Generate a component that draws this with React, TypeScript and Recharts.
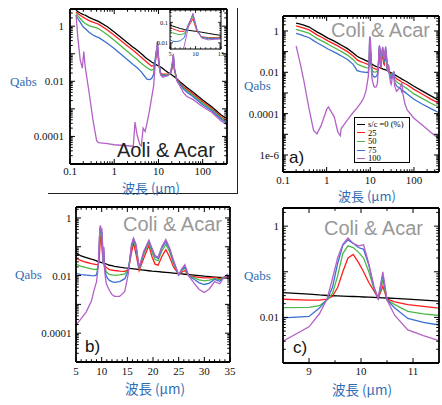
import React from 'react';
import { LineChart, Line, XAxis, YAxis, Legend, CartesianGrid } from 'recharts';

// series: s/c = 0, 25, 50, 75, 100 %
const seriesNames = ['s/c =0 (%)', '25', '50', '75', '100'];
const seriesKeys = ['s0', 's25', 's50', 's75', 's100'];
const seriesColors = ['#000000', '#ff1c1c', '#4cb848', '#3a6fd2', '#b462c6'];

// ---- Aoli & Acar (top-left panel + inset) ----
const aoliWave = [
  0.137, 0.15, 0.17, 0.19, 0.205, 0.22, 0.27, 0.33, 0.4, 0.44,
  0.7, 1, 2, 2.7, 2.95, 3.3, 3.8, 4.1, 4.5, 5,
  5.5, 6.3, 7, 7.8, 8.6, 9.5, 10.3, 11.2, 12.5, 14,
  16.5, 19, 20.5, 21.7, 23, 26, 31, 37, 44, 60,
  100, 160, 262, 370,
];
const aoliS0 = [
  3.8, 3.4, 3.0, 2.75, 2.6, 2.5, 2.1, 1.8, 1.6, 1.5,
  0.95, 0.62, 0.25, 0.17, 0.155, 0.135, 0.11, 0.1, 0.088, 0.075,
  0.066, 0.057, 0.05, 0.045, 0.041, 0.038, 0.036, 0.033, 0.029, 0.025,
  0.021, 0.018, 0.0165, 0.0155, 0.0145, 0.0125, 0.0095, 0.0075, 0.006, 0.0041,
  0.0021, 0.0012, 0.0006, 0.00042,
];
const aoliS25 = [
  3.3, 2.9, 2.5, 2.2, 2.05, 1.9, 1.6, 1.4, 1.25, 1.18,
  0.73, 0.47, 0.19, 0.13, 0.117, 0.1, 0.082, 0.074, 0.065, 0.056,
  0.049, 0.041, 0.036, 0.037, 0.06, 0.15, 0.035, 0.02, 0.018, 0.018,
  0.018, 0.02, 0.03, 0.065, 0.025, 0.012, 0.0085, 0.0063, 0.0051, 0.0035,
  0.0018, 0.00105, 0.00051, 0.00036,
];
const aoliS50 = [
  2.9, 2.4, 1.9, 1.55, 1.38, 1.25, 1.05, 0.95, 0.86, 0.82,
  0.49, 0.31, 0.12, 0.08, 0.072, 0.062, 0.05, 0.045, 0.04, 0.035,
  0.031, 0.027, 0.025, 0.028, 0.07, 0.2, 0.04, 0.019, 0.017, 0.017,
  0.017, 0.021, 0.035, 0.08, 0.027, 0.0115, 0.008, 0.0057, 0.0045, 0.0031,
  0.0016, 0.00095, 0.00046, 0.00032,
];
const aoliS75 = [
  2.5, 1.9, 1.4, 1.05, 0.9, 0.82, 0.6, 0.48, 0.41, 0.39,
  0.24, 0.155, 0.06, 0.04, 0.036, 0.031, 0.025, 0.022, 0.018, 0.0145,
  0.012, 0.0115, 0.0125, 0.018, 0.08, 0.24, 0.045, 0.018, 0.016, 0.016,
  0.0165, 0.022, 0.04, 0.09, 0.029, 0.011, 0.0075, 0.0052, 0.004, 0.0028,
  0.0014, 0.00085, 0.00042, 0.00029,
];
const aoliS100 = [
  2.6, 0.4, 0.06, 0.03, 0.12, 0.035, 0.004, 0.0004, 0.00007, 0.00006,
  0.000055, 0.00005, 0.000046, 0.000044, 0.00033, 0.00011, 0.00005, 0.000045, 0.0002, 0.00015,
  0.0003, 0.0009, 0.0025, 0.007, 0.06, 0.28, 0.04, 0.017, 0.014, 0.015,
  0.016, 0.022, 0.045, 0.1, 0.03, 0.0105, 0.0065, 0.0038, 0.0028, 0.0022,
  0.0012, 0.00075, 0.00036, 0.00025,
];

// ---- Coli & Acar (panels a, b, c) ----
const coliWave = [
  0.2, 0.25, 0.3, 0.4, 0.5, 0.6, 0.75, 1, 1.1, 1.5,
  1.8, 2.05, 2.15, 3, 4, 5, 6, 7, 8, 8.5,
  9, 9.2, 9.35, 9.45, 9.55, 9.65, 9.75, 9.85, 9.95, 10.05,
  10.15, 10.25, 10.33, 10.42, 10.5, 10.65, 10.9, 11.2, 11.5, 12,
  12.5, 13.5, 14.5, 15.2, 15.8, 16.2, 16.7, 17.3, 18.2, 19.2,
  19.8, 20.4, 21, 21.7, 22.5, 23.2, 24, 25, 25.6, 26.2,
  27, 28, 29, 30, 31, 32, 33, 33.8, 34.5, 36,
  40, 45, 50, 53, 56, 62, 70, 100, 150, 250,
  380,
];
const coliS0 = [
  2.4, 2.15, 1.9, 1.55, 1.15, 0.9, 0.7, 0.49, 0.44, 0.32,
  0.26, 0.22, 0.21, 0.14, 0.088, 0.06, 0.048, 0.042, 0.037, 0.035,
  0.0325, 0.031, 0.0302, 0.0298, 0.0295, 0.0292, 0.029, 0.0287, 0.0284, 0.028,
  0.0277, 0.0274, 0.0272, 0.0269, 0.0266, 0.0261, 0.0252, 0.024, 0.0228, 0.022,
  0.021, 0.0195, 0.0185, 0.018, 0.0175, 0.0171, 0.0166, 0.016, 0.0154, 0.0147,
  0.0143, 0.014, 0.0137, 0.0133, 0.013, 0.0126, 0.0122, 0.0117, 0.0114, 0.0111,
  0.0107, 0.0103, 0.0099, 0.0095, 0.0092, 0.0089, 0.0086, 0.0084, 0.0082, 0.0077,
  0.0067, 0.0058, 0.0051, 0.0047, 0.0044, 0.0039, 0.0034, 0.0021, 0.0013, 0.0007,
  0.00044,
];
const coliS25 = [
  1.75, 1.55, 1.38, 1.12, 0.83, 0.65, 0.51, 0.36, 0.32, 0.23,
  0.19, 0.16, 0.153, 0.1, 0.063, 0.04, 0.033, 0.029, 0.026, 0.025,
  0.024, 0.024, 0.025, 0.029, 0.045, 0.1, 0.2, 0.24, 0.16, 0.1,
  0.058, 0.038, 0.026, 0.048, 0.025, 0.022, 0.019, 0.0175, 0.016, 0.0155,
  0.015, 0.0143, 0.014, 0.016, 0.06, 0.14, 0.055, 0.015, 0.04, 0.11,
  0.045, 0.025, 0.023, 0.045, 0.08, 0.045, 0.02, 0.011, 0.013, 0.015,
  0.0098, 0.0092, 0.0087, 0.0083, 0.0084, 0.0086, 0.0078, 0.0086, 0.0092, 0.006,
  0.0049, 0.0042, 0.0037, 0.0033, 0.0032, 0.0028, 0.0025, 0.0015, 0.00092, 0.00049,
  0.00031,
];
const coliS50 = [
  1.2, 1.05, 0.93, 0.76, 0.56, 0.44, 0.34, 0.25, 0.22, 0.155,
  0.127, 0.108, 0.103, 0.068, 0.042, 0.025, 0.021, 0.019, 0.017, 0.0163,
  0.0165, 0.018, 0.024, 0.033, 0.08, 0.25, 0.37, 0.34, 0.27, 0.2,
  0.1, 0.042, 0.026, 0.066, 0.024, 0.019, 0.0135, 0.012, 0.011, 0.0105,
  0.0102, 0.0105, 0.0115, 0.016, 0.09, 0.17, 0.09, 0.017, 0.055, 0.14,
  0.065, 0.036, 0.033, 0.07, 0.12, 0.07, 0.026, 0.0105, 0.015, 0.018,
  0.0097, 0.0085, 0.0071, 0.0065, 0.0069, 0.008, 0.0071, 0.0087, 0.0103, 0.0045,
  0.0035, 0.0029, 0.0026, 0.0022, 0.0022, 0.0019, 0.0016, 0.0009, 0.00056, 0.00031,
  0.00021,
];
const coliS75 = [
  0.77, 0.67, 0.58, 0.47, 0.34, 0.27, 0.21, 0.145, 0.13, 0.095,
  0.078, 0.066, 0.063, 0.042, 0.025, 0.012, 0.0108, 0.0103, 0.0099, 0.0098,
  0.0105, 0.016, 0.025, 0.045, 0.15, 0.38, 0.5, 0.42, 0.34, 0.31,
  0.14, 0.045, 0.026, 0.085, 0.024, 0.016, 0.0095, 0.0078, 0.0068, 0.0062,
  0.0058, 0.0062, 0.0078, 0.015, 0.1, 0.19, 0.11, 0.018, 0.065, 0.16,
  0.08, 0.045, 0.04, 0.09, 0.15, 0.085, 0.03, 0.0105, 0.016, 0.02,
  0.0096, 0.0075, 0.0056, 0.0049, 0.0055, 0.0074, 0.0063, 0.0088, 0.0108, 0.0033,
  0.0022, 0.0018, 0.0016, 0.0011, 0.0013, 0.0011, 0.0009, 0.0005, 0.0003, 0.00017,
  0.00011,
];
const coliS100 = [
  0.19, 0.025, 0.004, 0.00015, 0.000016, 0.0000105, 0.000027, 0.00016, 0.00021, 0.000068,
  0.000013, 0.0000085, 0.000019, 0.00005, 0.00011, 0.00019, 0.00032, 0.00055, 0.0013, 0.003,
  0.0062, 0.012, 0.026, 0.07, 0.2, 0.4, 0.55, 0.42, 0.37, 0.39,
  0.15, 0.047, 0.026, 0.1, 0.024, 0.011, 0.0053, 0.004, 0.0031, 0.0022,
  0.0019, 0.0019, 0.0028, 0.012, 0.12, 0.2, 0.12, 0.019, 0.07, 0.17,
  0.09, 0.05, 0.043, 0.1, 0.18, 0.095, 0.034, 0.0105, 0.017, 0.024,
  0.0095, 0.0055, 0.0033, 0.0026, 0.0035, 0.0062, 0.0052, 0.0085, 0.011, 0.0022,
  0.0012, 0.0016, 0.0022, 0.003, 0.0009, 0.0003, 0.00015, 0.00006, 0.00003, 0.000012,
  0.000006,
];

const xLogLabels: [number, string][] = [[0.1, '0.1'], [1, '1'], [10, '10'], [100, '100']];
const yLabels4: [number, string][] = [[1, '1'], [0.01, '0.01'], [0.0001, '0.0001']];
const yLabelsA: [number, string][] = [[1, '1'], [0.01, '0.01'], [0.0001, '0.0001'], [1e-6, '1e-6']];
const yLabelsC: [number, string][] = [[1, '1'], [0.01, '0.01']];
const xLabelsB: [number, string][] = [[5, '5'], [10, '10'], [15, '15'], [20, '20'], [25, '25'], [30, '30'], [35, '35']];
const xLabelsC: [number, string][] = [[9, '9'], [10, '10'], [11, '11']];
const insetXLabels: [number, string][] = [[5, '5'], [10, '10'], [15, '15']];
const insetYLabels: [number, string][] = [[0.1, '0.1'], [0.01, '0.01']];

type Row = { [k: string]: number };
const toRows = (w: number[], s: number[][]): Row[] =>
  w.map((x, i) => {
    const r: Row = { w: x };
    seriesKeys.forEach((k, j) => (r[k] = s[j][i]));
    return r;
  });

const aoliRows = toRows(aoliWave, [aoliS0, aoliS25, aoliS50, aoliS75, aoliS100]);
const coliRows = toRows(coliWave, [coliS0, coliS25, coliS50, coliS75, coliS100]);

const logTicks = (lo: number, hi: number) => {
  const out: number[] = [];
  for (let e = Math.floor(Math.log10(lo)); e <= Math.ceil(Math.log10(hi)); e++) {
    for (let m = 1; m < 10; m++) {
      const v = parseFloat((m * Math.pow(10, e)).toPrecision(6));
      if (v >= lo && v <= hi) out.push(v);
    }
  }
  return out;
};
const linTicks = (lo: number, hi: number, step: number) => {
  const out: number[] = [];
  for (let v = lo; v <= hi + 1e-9; v += step) out.push(parseFloat(v.toFixed(4)));
  return out;
};
const isDecade = (v: number) => Math.abs(Math.log10(v) - Math.round(Math.log10(v))) < 1e-6;
const near = (a: number, b: number) => Math.abs(a - b) <= Math.abs(b) * 1e-6 + 1e-12;

type Box = { l: number; t: number; r: number; b: number };
type Side = 'bottom' | 'top' | 'left' | 'right';

const makeTick = (
  side: Side, bx: Box, major: (v: number) => boolean,
  labels: [number, string][], len: number, font: number, gap: number, sw: number,
) => (p: any) => {
  const v = p.payload.value as number;
  const L = major(v) ? len : len * 0.55;
  const lab = labels.find(([lv]) => near(v, lv));
  const txt = { fontFamily: '"Liberation Serif", serif', fontSize: font, fill: '#111' };
  if (side === 'bottom')
    return (
      <g>
        <line x1={p.x} x2={p.x} y1={bx.b} y2={bx.b - L} stroke="#000" strokeWidth={sw} />
        {lab && <text x={p.x} y={bx.b + gap} textAnchor="middle" dominantBaseline="central" style={txt}>{lab[1]}</text>}
      </g>
    );
  if (side === 'top') return <line x1={p.x} x2={p.x} y1={bx.t} y2={bx.t + L} stroke="#000" strokeWidth={sw} />;
  if (side === 'left')
    return (
      <g>
        <line x1={bx.l} x2={bx.l + L} y1={p.y} y2={p.y} stroke="#000" strokeWidth={sw} />
        {lab && <text x={bx.l - gap} y={p.y} textAnchor="end" dominantBaseline="central" style={txt}>{lab[1]}</text>}
      </g>
    );
  return <line x1={bx.r} x2={bx.r - L} y1={p.y} y2={p.y} stroke="#000" strokeWidth={sw} />;
};

type PanelProps = {
  left: number; top: number; width: number; height: number; box: Box;
  data: Row[]; xScale: 'log' | 'linear';
  xDomain: [number, number]; yDomain: [number, number];
  xTicks: number[]; xMajor: (v: number) => boolean; xLabels: [number, string][];
  yTicks: number[]; yLabels: [number, string][];
  font: number; frame: number; lineW: number; tickLen: number; xGap: number; yGap: number;
  white?: boolean; legend?: { left: number; top: number };
};

const LegendBox = (props: any) => {
  const items = [...(props.payload || [])].sort(
    (a: any, b: any) => seriesNames.indexOf(a.value) - seriesNames.indexOf(b.value),
  );
  return (
    <div style={{
      border: '1px solid #000', background: '#fff', width: 56, height: 46, boxSizing: 'border-box',
      padding: '2px 0 0 2px', fontFamily: '"Liberation Serif", serif', fontSize: 8.5, lineHeight: '8.6px', color: '#000',
    }}>
      {items.map((e: any) => (
        <div key={e.value} style={{ display: 'flex', alignItems: 'center', height: 8.6 }}>
          <span style={{ display: 'inline-block', width: 8, borderTop: `1.5px solid ${e.color}`, marginRight: 3 }} />
          <span>{e.value}</span>
        </div>
      ))}
    </div>
  );
};

const AX = 1; // thickness reserved for each axis band

function Panel(p: PanelProps) {
  const bx: Box = { l: p.box.l - p.left, t: p.box.t - p.top, r: p.box.r - p.left, b: p.box.b - p.top };
  const margin = { top: bx.t - AX, left: bx.l - AX, right: p.width - bx.r - AX, bottom: p.height - bx.b - AX };
  const axisLine = { stroke: '#000', strokeWidth: p.frame };
  const sw = p.frame > 1.2 ? 1 : 0.8;
  const common = { type: 'number' as const, allowDataOverflow: true, interval: 0 as const, tickLine: false, axisLine };
  return (
    <div style={{ position: 'absolute', left: p.left, top: p.top }}>
      <LineChart width={p.width} height={p.height} data={p.data} margin={margin}>
        {p.white && <CartesianGrid xAxisId="b" yAxisId="l" fill="#fff" stroke="none" horizontal={false} vertical={false} />}
        <XAxis xAxisId="b" dataKey="w" scale={p.xScale} domain={p.xDomain} ticks={p.xTicks} height={AX} {...common}
          tick={makeTick('bottom', bx, p.xMajor, p.xLabels, p.tickLen, p.font, p.xGap, sw)} />
        <XAxis xAxisId="t" orientation="top" dataKey="w" scale={p.xScale} domain={p.xDomain} ticks={p.xTicks} height={AX} {...common}
          tick={makeTick('top', bx, p.xMajor, [], p.tickLen, p.font, p.xGap, sw)} />
        <YAxis yAxisId="l" scale="log" domain={p.yDomain} ticks={p.yTicks} width={AX} {...common}
          tick={makeTick('left', bx, isDecade, p.yLabels, p.tickLen, p.font, p.yGap, sw)} />
        <YAxis yAxisId="r" orientation="right" scale="log" domain={p.yDomain} ticks={p.yTicks} width={AX} {...common}
          tick={makeTick('right', bx, isDecade, [], p.tickLen, p.font, p.yGap, sw)} />
        {seriesKeys.map((k, i) => (
          <Line key={k} xAxisId="b" yAxisId="l" type="linear" dataKey={k} name={seriesNames[i]}
            stroke={seriesColors[i]} strokeWidth={p.lineW} dot={false} activeDot={false} isAnimationActive={false} />
        ))}
        {p.legend && (
          <Legend layout="vertical" align="center" verticalAlign="middle" content={LegendBox}
            wrapperStyle={{ left: p.legend.left, top: p.legend.top, width: 56, height: 46 }} />
        )}
      </LineChart>
    </div>
  );
}

const blue = '#2f6db5';
const Txt = (props: { x: number; y: number; size: number; color: string; family: string; center?: boolean; children: React.ReactNode }) => (
  <div style={{
    position: 'absolute', left: props.x, top: props.y, fontSize: props.size, color: props.color,
    fontFamily: props.family, lineHeight: 1, whiteSpace: 'nowrap',
    transform: props.center ? 'translateX(-50%)' : undefined,
  }}>{props.children}</div>
);
const SANS = '"Liberation Sans", Arial, sans-serif';
const SERIF = '"Liberation Serif", serif';
const CJK = '"Noto Sans CJK JP", sans-serif';

export default function App() {
  const p1Box = { l: 70, t: 9, r: 227, b: 164 };
  const paBox = { l: 283, t: 16, r: 439, b: 172 };
  const pbBox = { l: 76, t: 207, r: 230, b: 362 };
  const pcBox = { l: 283, t: 208, r: 439, b: 363 };
  const inBox = { l: 170, t: 10, r: 221, b: 49 };
  return (
    <div style={{ position: 'absolute', left: 0, top: 0, width: 442, height: 405, background: '#fff', overflow: 'hidden' }}>
      <div style={{ position: 'absolute', left: 48, top: 8, width: 189, height: 185, borderRight: '1.5px solid #222', borderBottom: '1.5px solid #222' }} />

      <Panel left={0} top={0} width={236} height={192} box={p1Box} data={aoliRows} xScale="log"
        xDomain={[0.1, 355]} yDomain={[1e-5, 4.2]} xTicks={logTicks(0.1, 355)} xMajor={isDecade} xLabels={xLogLabels}
        yTicks={logTicks(1e-5, 4.2)} yLabels={yLabels4} font={11} frame={1.8} lineW={1.3} tickLen={5} xGap={6.5} yGap={6} />

      <Panel left={150} top={3} width={76} height={58} box={inBox} data={aoliRows} xScale="linear" white
        xDomain={[5, 15]} yDomain={[0.005, 0.4]} xTicks={linTicks(5, 15, 1)} xMajor={(v) => v % 5 === 0} xLabels={insetXLabels}
        yTicks={logTicks(0.005, 0.4)} yLabels={insetYLabels} font={6.5} frame={1} lineW={1} tickLen={3} xGap={4} yGap={2} />

      <Panel left={221} top={0} width={221} height={200} box={paBox} data={coliRows} xScale="log"
        xDomain={[0.1, 375]} yDomain={[1.5e-7, 5.3]} xTicks={logTicks(0.1, 375)} xMajor={isDecade} xLabels={xLogLabels}
        yTicks={logTicks(1.5e-7, 5.3)} yLabels={yLabelsA} font={11} frame={1.8} lineW={1.3} tickLen={5} xGap={7.5} yGap={4}
        legend={{ left: 133, top: 117 }} />

      <Panel left={0} top={200} width={240} height={180} box={pbBox} data={coliRows} xScale="linear"
        xDomain={[5, 35]} yDomain={[1e-5, 2.4]} xTicks={linTicks(5, 35, 1)} xMajor={(v) => v % 5 === 0} xLabels={xLabelsB}
        yTicks={logTicks(1e-5, 2.4)} yLabels={yLabels4} font={11} frame={1.8} lineW={1.3} tickLen={5} xGap={9} yGap={4.5} />

      <Panel left={221} top={200} width={221} height={180} box={pcBox} data={coliRows} xScale="linear"
        xDomain={[8.5, 11.5]} yDomain={[1e-3, 2.5]} xTicks={linTicks(9, 11, 0.5)} xMajor={(v) => Number.isInteger(v)} xLabels={xLabelsC}
        yTicks={logTicks(1e-3, 2.5)} yLabels={yLabelsC} font={11} frame={1.8} lineW={1.3} tickLen={5} xGap={7.5} yGap={4} />

      <Txt x={117} y={140} size={20} color="#222" family={SANS}>Aoli &amp; Acar</Txt>
      <Txt x={331} y={20} size={20} color="#999" family={SANS}>Coli &amp; Acar</Txt>
      <Txt x={123} y={214} size={20} color="#999" family={SANS}>Coli &amp; Acar</Txt>
      <Txt x={324} y={218} size={20} color="#999" family={SANS}>Coli &amp; Acar</Txt>
      <Txt x={289} y={149} size={17} color="#111" family={SANS}>a)</Txt>
      <Txt x={85} y={338} size={17} color="#111" family={SANS}>b)</Txt>
      <Txt x={293} y={339} size={17} color="#111" family={SANS}>c)</Txt>

      <Txt x={10} y={75} size={13} color={blue} family={SERIF}>Qabs</Txt>
      <Txt x={244} y={79} size={13} color={blue} family={SERIF}>Qabs</Txt>
      <Txt x={15} y={268} size={13} color={blue} family={SERIF}>Qabs</Txt>
      <Txt x={244} y={269} size={13} color={blue} family={SERIF}>Qabs</Txt>

      <Txt x={151} y={180.5} size={13} color={blue} family={CJK} center>波長 (μm)</Txt>
      <Txt x={367} y={189} size={13} color={blue} family={CJK} center>波長 (μm)</Txt>
      <Txt x={155} y={382} size={13.5} color={blue} family={CJK} center>波長 (μm)</Txt>
      <Txt x={362} y={383} size={13.5} color={blue} family={CJK} center>波長 (μm)</Txt>
    </div>
  );
}
